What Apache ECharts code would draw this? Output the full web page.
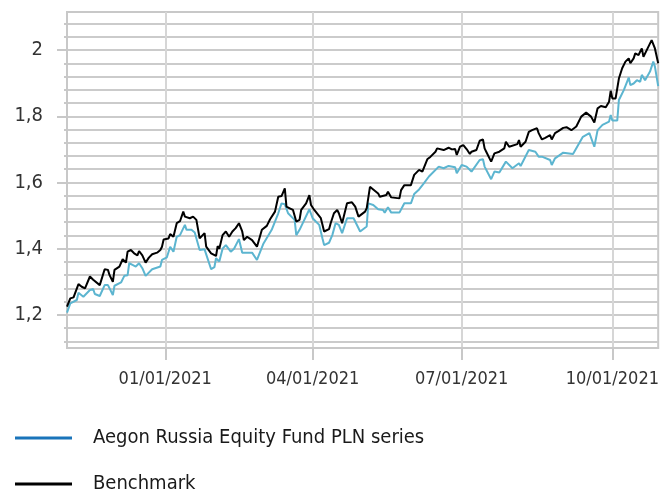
<!DOCTYPE html>
<html>
<head>
<meta charset="utf-8">
<script src="https://cdn.jsdelivr.net/npm/echarts@6/dist/echarts.min.js"></script>
<style>
html,body{margin:0;padding:0;background:#fff;}
#chart{width:662px;height:489px;}
</style>
</head>
<body>
<div id="chart"></div>
<script>
// ---- data ----
var fundName = 'Aegon Russia Equity Fund PLN series';
var benchName = 'Benchmark';

var fundDates = ['2020-11-02','2020-11-04','2020-11-08','2020-11-09','2020-11-12','2020-11-16','2020-11-18','2020-11-19','2020-11-22','2020-11-25','2020-11-27','2020-11-30','2020-12-01','2020-12-05','2020-12-07','2020-12-09','2020-12-10','2020-12-12','2020-12-14','2020-12-16','2020-12-18','2020-12-20','2020-12-24','2020-12-29','2020-12-30','2021-01-02','2021-01-04','2021-01-06','2021-01-08','2021-01-10','2021-01-13','2021-01-14','2021-01-17','2021-01-19','2021-01-22','2021-01-25','2021-01-29','2021-01-31','2021-02-01','2021-02-03','2021-02-05','2021-02-07','2021-02-10','2021-02-12','2021-02-15','2021-02-17','2021-02-23','2021-02-26','2021-03-02','2021-03-07','2021-03-11','2021-03-13','2021-03-15','2021-03-17','2021-03-19','2021-03-21','2021-03-22','2021-03-24','2021-03-30','2021-04-01','2021-04-05','2021-04-07','2021-04-08','2021-04-11','2021-04-13','2021-04-15','2021-04-17','2021-04-19','2021-04-22','2021-04-26','2021-04-30','2021-05-04','2021-05-05','2021-05-08','2021-05-11','2021-05-14','2021-05-15','2021-05-17','2021-05-19','2021-05-24','2021-05-27','2021-05-31','2021-06-02','2021-06-05','2021-06-08','2021-06-11','2021-06-12','2021-06-17','2021-06-20','2021-06-23','2021-06-27','2021-06-28','2021-07-01','2021-07-04','2021-07-07','2021-07-12','2021-07-14','2021-07-15','2021-07-19','2021-07-21','2021-07-24','2021-07-28','2021-08-01','2021-08-05','2021-08-06','2021-08-11','2021-08-15','2021-08-17','2021-08-19','2021-08-24','2021-08-25','2021-08-27','2021-09-01','2021-09-07','2021-09-13','2021-09-17','2021-09-20','2021-09-22','2021-09-25','2021-09-29','2021-09-30','2021-10-01','2021-10-04','2021-10-05','2021-10-06','2021-10-08','2021-10-11','2021-10-12','2021-10-14','2021-10-16','2021-10-18','2021-10-19','2021-10-21','2021-10-24','2021-10-26','2021-10-27','2021-10-29'];
var fundValues = [1.207,1.235,1.245,1.267,1.255,1.275,1.278,1.263,1.257,1.29,1.29,1.26,1.288,1.298,1.318,1.32,1.356,1.351,1.346,1.356,1.341,1.318,1.338,1.346,1.366,1.374,1.406,1.391,1.436,1.441,1.472,1.457,1.457,1.449,1.396,1.398,1.338,1.344,1.371,1.361,1.40,1.411,1.391,1.40,1.429,1.388,1.388,1.366,1.416,1.457,1.507,1.537,1.534,1.507,1.497,1.487,1.441,1.457,1.519,1.492,1.472,1.431,1.411,1.418,1.441,1.477,1.472,1.447,1.492,1.492,1.452,1.467,1.537,1.532,1.519,1.517,1.509,1.525,1.509,1.509,1.537,1.537,1.565,1.579,1.598,1.618,1.623,1.648,1.643,1.650,1.646,1.628,1.653,1.648,1.633,1.668,1.670,1.648,1.610,1.633,1.630,1.663,1.643,1.658,1.650,1.698,1.693,1.678,1.678,1.668,1.653,1.673,1.690,1.686,1.738,1.749,1.708,1.758,1.774,1.784,1.804,1.787,1.787,1.849,1.859,1.879,1.917,1.894,1.899,1.909,1.904,1.925,1.909,1.935,1.965,1.950,1.891];

var benchDates = ['2020-11-02','2020-11-04','2020-11-06','2020-11-09','2020-11-11','2020-11-13','2020-11-16','2020-11-17','2020-11-18','2020-11-22','2020-11-25','2020-11-27','2020-11-28','2020-11-30','2020-12-01','2020-12-04','2020-12-06','2020-12-08','2020-12-09','2020-12-11','2020-12-13','2020-12-15','2020-12-16','2020-12-18','2020-12-20','2020-12-22','2020-12-24','2020-12-27','2020-12-29','2020-12-30','2020-12-31','2021-01-03','2021-01-04','2021-01-06','2021-01-08','2021-01-10','2021-01-12','2021-01-13','2021-01-14','2021-01-16','2021-01-18','2021-01-20','2021-01-22','2021-01-25','2021-01-26','2021-01-29','2021-02-01','2021-02-02','2021-02-03','2021-02-05','2021-02-07','2021-02-08','2021-02-09','2021-02-11','2021-02-13','2021-02-15','2021-02-17','2021-02-18','2021-02-20','2021-02-23','2021-02-26','2021-03-01','2021-03-02','2021-03-04','2021-03-06','2021-03-09','2021-03-11','2021-03-13','2021-03-15','2021-03-16','2021-03-18','2021-03-20','2021-03-22','2021-03-24','2021-03-25','2021-03-28','2021-03-30','2021-03-31','2021-04-02','2021-04-06','2021-04-07','2021-04-08','2021-04-11','2021-04-12','2021-04-14','2021-04-16','2021-04-17','2021-04-19','2021-04-22','2021-04-25','2021-04-27','2021-04-29','2021-05-03','2021-05-04','2021-05-06','2021-05-08','2021-05-11','2021-05-12','2021-05-16','2021-05-17','2021-05-19','2021-05-24','2021-05-25','2021-05-27','2021-05-31','2021-06-02','2021-06-05','2021-06-07','2021-06-10','2021-06-12','2021-06-15','2021-06-16','2021-06-20','2021-06-23','2021-06-25','2021-06-27','2021-06-28','2021-06-30','2021-07-02','2021-07-04','2021-07-06','2021-07-07','2021-07-10','2021-07-12','2021-07-14','2021-07-15','2021-07-16','2021-07-19','2021-07-21','2021-07-24','2021-07-27','2021-07-28','2021-07-30','2021-08-04','2021-08-05','2021-08-06','2021-08-09','2021-08-11','2021-08-13','2021-08-16','2021-08-17','2021-08-18','2021-08-19','2021-08-21','2021-08-24','2021-08-25','2021-08-27','2021-08-29','2021-09-01','2021-09-03','2021-09-06','2021-09-09','2021-09-12','2021-09-15','2021-09-18','2021-09-20','2021-09-22','2021-09-24','2021-09-27','2021-09-29','2021-09-30','2021-10-01','2021-10-03','2021-10-05','2021-10-07','2021-10-09','2021-10-11','2021-10-12','2021-10-14','2021-10-15','2021-10-17','2021-10-19','2021-10-20','2021-10-22','2021-10-25','2021-10-27','2021-10-29'];
var benchValues = [1.225,1.25,1.253,1.293,1.285,1.28,1.316,1.318,1.306,1.29,1.338,1.336,1.32,1.30,1.336,1.346,1.368,1.358,1.391,1.396,1.386,1.38,1.393,1.38,1.358,1.373,1.383,1.388,1.396,1.406,1.428,1.431,1.444,1.436,1.477,1.483,1.512,1.497,1.502,1.492,1.497,1.487,1.431,1.447,1.406,1.386,1.378,1.408,1.40,1.441,1.452,1.457,1.436,1.452,1.462,1.477,1.452,1.426,1.436,1.426,1.406,1.457,1.452,1.469,1.489,1.512,1.557,1.559,1.582,1.527,1.522,1.517,1.482,1.487,1.517,1.537,1.562,1.532,1.517,1.492,1.472,1.452,1.459,1.477,1.507,1.517,1.507,1.477,1.537,1.540,1.527,1.497,1.512,1.522,1.587,1.579,1.567,1.557,1.562,1.572,1.555,1.552,1.577,1.592,1.592,1.623,1.638,1.633,1.670,1.678,1.693,1.703,1.698,1.705,1.70,1.701,1.683,1.708,1.713,1.701,1.686,1.693,1.698,1.726,1.730,1.703,1.693,1.663,1.688,1.693,1.703,1.723,1.708,1.716,1.728,1.708,1.723,1.753,1.758,1.764,1.749,1.753,1.730,1.735,1.743,1.730,1.749,1.755,1.765,1.767,1.758,1.769,1.799,1.811,1.799,1.781,1.824,1.831,1.827,1.844,1.877,1.854,1.854,1.914,1.945,1.965,1.975,1.960,1.975,1.990,1.985,2.005,1.980,2.0,2.03,2.005,1.96];

var xTickLabels = ['2021-01-01','2021-04-01','2021-07-01','2021-10-01'];
var xRange = ['2020-11-02','2021-10-29'];
var yTickLabels = [1.2,1.4,1.6,1.8,2.0];
var yGridValues = [1.12,1.16,1.2,1.24,1.28,1.32,1.36,1.4,1.44,1.48,1.52,1.56,1.6,1.64,1.68,1.72,1.76,1.8,1.84,1.88,1.92,1.96,2.0,2.04,2.08];
var yRange = [1.1,2.115];

// ---- chart ----
function ts(s){ var p=s.split('-'); return Date.UTC(+p[0], +p[1]-1, +p[2]); }
function pair(d, v){ return d.map(function(x,i){ return [ts(x), v[i]]; }); }
function pad(n){ return (n<10?'0':'')+n; }
var FONT = 'DejaVu Sans Condensed';
var GRID = '#cbcbcb';
var xTicks = xTickLabels.map(ts);

function legendFor(name, color, top){
  return {
    orient:'vertical', left:10, top:top, itemWidth:57, itemHeight:3,
    icon:'rect', selectedMode:false,
    textStyle:{fontFamily:FONT, fontSize:20, lineHeight:24, color:'#1a1a1a', padding:[0,0,0,16]},
    data:[{name:name, itemStyle:{color:color}}]
  };
}

var chart = echarts.init(document.getElementById('chart'), null, {renderer:'canvas'});
chart.setOption({
  animation:false,
  grid:{left:67, top:12, right:3, bottom:141, show:true, borderColor:'#c8c8c8', borderWidth:2, containLabel:false},
  legend:[ legendFor(fundName, '#1a74ba', 421), legendFor(benchName, '#000000', 467) ],
  xAxis:{
    type:'value', min:ts(xRange[0]), max:ts(xRange[1]),
    axisLine:{show:true, lineStyle:{color:'#c8c8c8', width:2}},
    axisTick:{show:true, customValues:xTicks, length:12, lineStyle:{color:'#c8c8c8', width:2}},
    axisLabel:{customValues:xTicks, margin:22, fontFamily:FONT, fontSize:18, color:'#333',
      formatter:function(v){ var d=new Date(v); return pad(d.getUTCMonth()+1)+'/'+pad(d.getUTCDate())+'/'+d.getUTCFullYear(); }},
    splitLine:{show:true, lineStyle:{color:'#d6d6d6', width:2}}
  },
  yAxis:[
    {type:'value', min:yRange[0], max:yRange[1], position:'left',
      axisLine:{show:true, lineStyle:{color:'#c8c8c8', width:2}},
      axisTick:{show:true, customValues:yGridValues, length:3, lineStyle:{color:'#c8c8c8', width:2}},
      axisLabel:{show:false},
      splitLine:{show:true, lineStyle:{color:GRID, width:2}}
    },
    {type:'value', min:yRange[0], max:yRange[1], position:'left', offset:0,
      axisLine:{show:false},
      axisTick:{show:true, customValues:yTickLabels, length:10, lineStyle:{color:'#c8c8c8', width:2}},
      axisLabel:{customValues:yTickLabels, margin:24, fontFamily:FONT, fontSize:20, color:'#333',
        formatter:function(v){ return String(+(+v).toFixed(2)).replace('.', ','); }},
      splitLine:{show:false}
    }
  ],
  series:[
    {name:fundName, type:'line', data:pair(fundDates, fundValues), showSymbol:false, symbol:'none',
      lineStyle:{color:'#5cb5d0', width:2}, itemStyle:{color:'#5cb5d0'}},
    {name:benchName, type:'line', data:pair(benchDates, benchValues), showSymbol:false, symbol:'none',
      lineStyle:{color:'#000000', width:2}, itemStyle:{color:'#000000'}}
  ]
});
</script>
</body>
</html>
